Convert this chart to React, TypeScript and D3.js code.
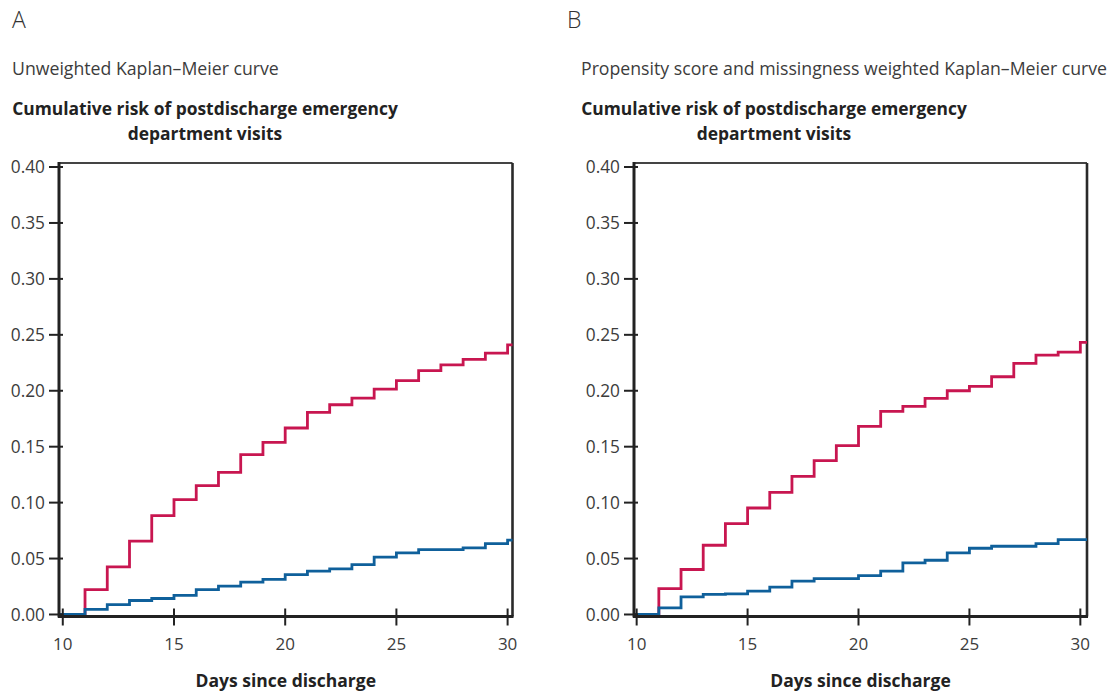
import React from "react";
import * as d3 from "d3";

const DAYS = [10, 11, 12, 13, 14, 15, 16, 17, 18, 19, 20, 21, 22, 23, 24, 25, 26, 27, 28, 29, 30];

const A_RED = [0, 0.0223, 0.0426, 0.0655, 0.0884, 0.1027, 0.1152, 0.127, 0.1429, 0.1539, 0.1667, 0.1807, 0.1875, 0.1935, 0.2015, 0.209, 0.218, 0.2232, 0.228, 0.2336, 0.241];
const A_BLUE = [0, 0.0045, 0.0089, 0.0125, 0.0143, 0.017, 0.0223, 0.0253, 0.0289, 0.0313, 0.0357, 0.0387, 0.0408, 0.0446, 0.0512, 0.055, 0.058, 0.058, 0.0595, 0.0634, 0.0664];

const B_RED = [0, 0.0232, 0.0402, 0.0619, 0.0813, 0.0952, 0.1092, 0.1235, 0.1375, 0.1509, 0.1682, 0.1815, 0.186, 0.1932, 0.2, 0.204, 0.2125, 0.2245, 0.2318, 0.2345, 0.2433];
const B_BLUE = [0, 0.006, 0.0158, 0.0179, 0.0185, 0.0208, 0.0244, 0.0298, 0.0321, 0.0321, 0.0348, 0.0387, 0.0461, 0.0485, 0.0551, 0.0592, 0.061, 0.061, 0.0634, 0.067, 0.067];

const Y_TICKS = [0, 0.05, 0.1, 0.15, 0.2, 0.25, 0.3, 0.35, 0.4];
const X_TICKS = [10, 15, 20, 25, 30];

const RED = "#c81650";
const BLUE = "#0f609b";
const FONT = "'Open Sans', 'Noto Sans', sans-serif";

type PanelProps = {
  letter: string;
  subtitle: string;
  letterX: number;
  subX: number;
  titleX: number;
  x0: number;
  x1: number;
  d0: number;
  d1: number;
  red: number[];
  blue: number[];
};

function Panel(p: PanelProps) {
  const x = d3.scaleLinear().domain([p.d0, p.d1]).range([p.x0, p.x1]);
  const y = d3.scaleLinear().domain([-0.0018, 0.4036]).range([616.5, 163]);
  const line = d3
    .line<[number, number]>()
    .x((d) => x(d[0]))
    .y((d) => y(d[1]))
    .curve(d3.curveStepAfter);
  const pts = (vals: number[]): [number, number][] => {
    const arr: [number, number][] = [[p.d0, vals[0]]];
    DAYS.forEach((d, i) => arr.push([d, vals[i]]));
    arr.push([p.d1, vals[vals.length - 1]]);
    return arr;
  };
  const [yTop, yBot] = [y.range()[1], y.range()[0]];
  const xCenter = (p.x0 + p.x1) / 2;
  return (
    <g>
      <text x={p.letterX} y={28} fontSize={23} fill="#333" fontFamily={FONT} fontWeight={300}>
        {p.letter}
      </text>
      <text x={p.subX} y={75} fontSize={17.7} fill="#3c3c3c" fontFamily={FONT}>
        {p.subtitle}
      </text>
      <text x={p.titleX} y={115} fontSize={17.4} fill="#222" fontFamily={FONT} fontWeight={700} textAnchor="middle">
        Cumulative risk of postdischarge emergency
      </text>
      <text x={p.titleX} y={140} fontSize={17.4} fill="#222" fontFamily={FONT} fontWeight={700} textAnchor="middle">
        department visits
      </text>
      {/* frame */}
      <line x1={p.x0} x2={p.x1} y1={yTop} y2={yTop} stroke="#444" strokeWidth={2.2} />
      <line x1={p.x1} x2={p.x1} y1={yTop} y2={yBot} stroke="#2a2a2a" strokeWidth={2.6} />
      {/* curves */}
      <path d={line(pts(p.red)) || ""} fill="none" stroke={RED} strokeWidth={2.8} />
      <path d={line(pts(p.blue)) || ""} fill="none" stroke={BLUE} strokeWidth={2.8} />
      {/* axes */}
      <line x1={p.x0} x2={p.x0} y1={yTop - 1} y2={yBot + 1} stroke="#222" strokeWidth={3} />
      <line x1={p.x0 - 1} x2={p.x1 + 1} y1={yBot} y2={yBot} stroke="#222" strokeWidth={3} />
      {Y_TICKS.map((t) => (
        <g key={"y" + t}>
          <line x1={p.x0 - 10} x2={p.x0 + 4} y1={y(t)} y2={y(t)} stroke="#222" strokeWidth={2} />
          <text x={p.x0 - 14} y={y(t)} dy="0.35em" fontSize={17.3} fill="#3c3c3c" fontFamily={FONT} textAnchor="end">
            {d3.format(".2f")(t)}
          </text>
        </g>
      ))}
      {X_TICKS.map((t) => (
        <g key={"x" + t}>
          <line x1={x(t)} x2={x(t)} y1={yBot - 8} y2={yBot + 9} stroke="#222" strokeWidth={2} />
          <text x={x(t)} y={650} fontSize={17} fill="#3c3c3c" fontFamily={FONT} textAnchor="middle">
            {t}
          </text>
        </g>
      ))}
      <text x={xCenter} y={687} fontSize={17.5} fill="#222" fontFamily={FONT} fontWeight={700} textAnchor="middle">
        Days since discharge
      </text>
    </g>
  );
}

export default function App() {
  return (
    <svg
      width={1111}
      height={693}
      style={{ position: "absolute", left: 0, top: 0, background: "#fff" }}
    >
      <rect x={0} y={0} width={1111} height={693} fill="#fff" />
      <Panel
        letter="A"
        subtitle="Unweighted Kaplan–Meier curve"
        letterX={12}
        subX={12}
        titleX={205}
        x0={59}
        x1={512.5}
        d0={9.83}
        d1={30.22}
        red={A_RED}
        blue={A_BLUE}
      />
      <Panel
        letter="B"
        subtitle="Propensity score and missingness weighted Kaplan–Meier curve"
        letterX={567}
        subX={581}
        titleX={774}
        x0={634}
        x1={1087}
        d0={9.88}
        d1={30.3}
        red={B_RED}
        blue={B_BLUE}
      />
    </svg>
  );
}
